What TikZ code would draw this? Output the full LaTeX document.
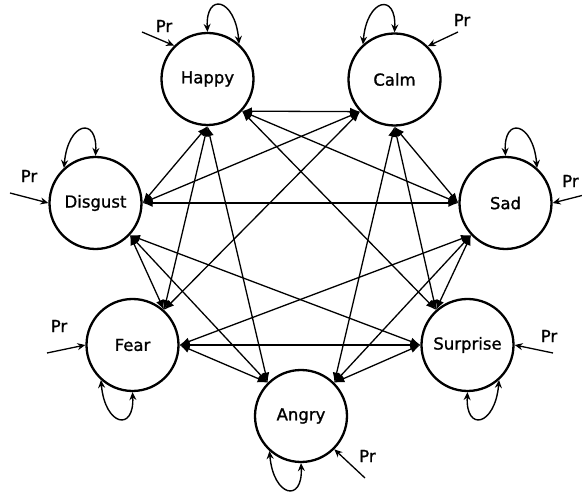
\documentclass[tikz,border=0pt]{standalone}
\usepackage{fontspec}
\setmainfont[FakeBold=1.2,BoldFont={DejaVu Sans}]{DejaVu Sans}
\usetikzlibrary{arrows.meta}
\begin{document}
\begin{tikzpicture}[x=1pt,y=-1pt,
  emo/.style={circle,draw,line width=2.3pt,minimum size=92pt,inner sep=0pt,font=\fontsize{16.5}{16.5}\selectfont\bfseries},
  link/.style={line width=1.3pt,{Latex[length=10pt,width=8pt]}-{Latex[length=10pt,width=8pt]}},
  selfloop/.style={line width=1.4pt,{Stealth[length=8pt,width=7pt]}-{Stealth[length=8pt,width=7pt]}},
  prin/.style={line width=1.3pt,-{Stealth[length=8pt,width=7pt]}},
  prlabel/.style={font=\fontsize{16.5}{16.5}\selectfont\bfseries,inner sep=0pt}]
\useasboundingbox (0,0) rectangle (582,494);
% nodes
\node[emo] (H) at (207.5,79) {Happy};
\node[emo] (C) at (394.5,79.5) {Calm};
\node[emo] (D) at (95.5,203) {Disgust};
\node[emo] (S) at (505.5,203) {Sad};
\node[emo] (F) at (132.5,345) {Fear};
\node[emo] (U) at (467.5,345) {Surprise};
\node[emo] (A) at (301,416) {Angry};
% links
\draw[link] (H.-43) -- (C.-137);
\draw[link] (H.-43) -- (S.west);
\draw[link] (H.-43) -- (U.132);
\draw[link] (H.south) -- (D.east);
\draw[link] (H.south) -- (F.48);
\draw[link] (H.south) -- (A.135);
\draw[link] (C.-137) -- (D.east);
\draw[link] (C.-137) -- (F.48);
\draw[link] (C.south) -- (S.west);
\draw[link] (C.south) -- (U.132);
\draw[link] (C.south) -- (A.45);
\draw[link] (D.east) -- (S.west);
\draw[link] (D.-43) -- (F.48);
\draw[link] (D.-43) -- (U.west);
\draw[link] (D.-43) -- (A.135);
\draw[link] (S.-137) -- (F.east);
\draw[link] (S.-137) -- (U.132);
\draw[link] (S.-137) -- (A.45);
\draw[link] (F.east) -- (U.west);
\draw[link] (F.east) -- (A.135);
\draw[link] (U.west) -- (A.45);
% self loops
\draw[selfloop] (H.90) .. controls +(-2,-40) and +(-4,-46) .. (H.48);
\draw[selfloop] (C.132) .. controls +(4,-46) and +(2,-40) .. (C.90);
\draw[selfloop] (D.132) .. controls +(4,-46) and +(2,-40) .. (D.90);
\draw[selfloop] (S.90) .. controls +(-2,-40) and +(-4,-46) .. (S.48);
\draw[selfloop] (F.-132) .. controls +(4,46) and +(2,40) .. (F.-90);
\draw[selfloop] (U.-90) .. controls +(-2,40) and +(-4,46) .. (U.-48);
\draw[selfloop] (A.-132) .. controls +(4,46) and +(2,40) .. (A.-90);
% Pr inputs
\coordinate (pH) at (142,32);
\coordinate (pC) at (458,32);
\coordinate (pD) at (10,193);
\coordinate (pS) at (584,195);
\coordinate (pF) at (47,353);
\coordinate (pU) at (553,353);
\coordinate (pA) at (365,478);
\draw[prin] (pH) -- (H.135);
\draw[prin] (pC) -- (C.45);
\draw[prin] (pD) -- (D.west);
\draw[prin] (pS) -- (S.east);
\draw[prin] (pF) -- (F.west);
\draw[prin] (pU) -- (U.east);
\draw[prin] (pA) -- (A.-45);
\node[prlabel] (lH) at (164,26) {Pr};
\node[prlabel] (lC) at (462,20) {Pr};
\node[prlabel] (lD) at (29,176) {Pr};
\node[prlabel,anchor=west] (lS) at (562,181) {Pr};
\node[prlabel] (lF) at (59,326) {Pr};
\node[prlabel] (lU) at (549,336) {Pr};
\node[prlabel,anchor=west] (lA) at (359,456) {Pr};
\end{tikzpicture}
\end{document}
